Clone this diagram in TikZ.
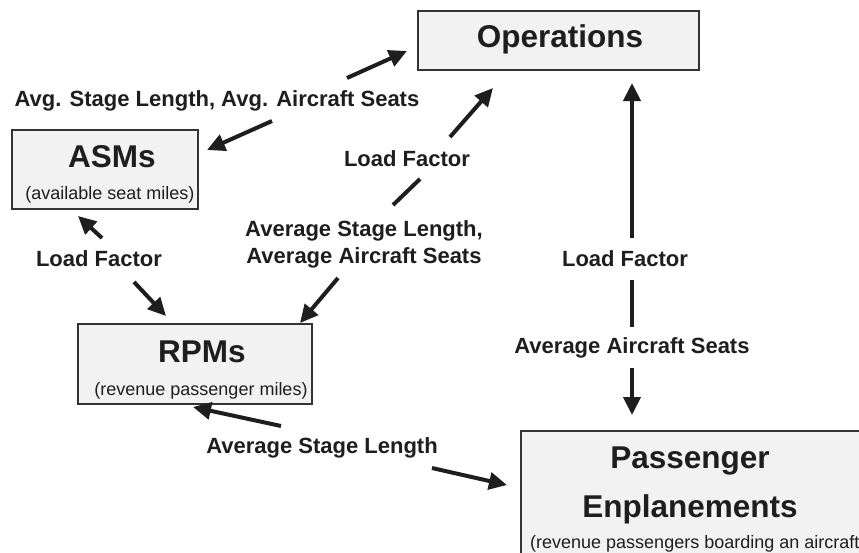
\documentclass[tikz,border=0pt]{standalone}
\usepackage{fontspec}
\setmainfont{Liberation Sans}
\usetikzlibrary{arrows.meta}
\definecolor{ink}{HTML}{1E1E1E}
\definecolor{boxfill}{HTML}{F2F2F2}
\definecolor{boxline}{HTML}{333333}
\begin{document}
\begin{tikzpicture}[x=1pt,y=-1pt,
  box/.style={draw=boxline, fill=boxfill, line width=1.6pt, inner sep=0pt, rectangle},
  title/.style={anchor=base, text=ink, font=\fontsize{31.5}{36}\selectfont\bfseries, inner sep=0pt},
  sub/.style={anchor=base, text=ink, font=\fontsize{18}{21}\selectfont, inner sep=0pt},
  lab/.style={anchor=base, text=ink, font=\fontsize{22}{27}\selectfont\bfseries, inner sep=0pt, align=center},
  arr/.style={draw=ink, line width=4pt, -{Triangle[length=18pt,width=17pt]}},
  seg/.style={draw=ink, line width=4pt}]
\useasboundingbox (0,0) rectangle (859,552);
\clip (0,0) rectangle (859,552);
\fill[white] (0,0) rectangle (859,552);

% boxes
\node[box, minimum width=281pt, minimum height=59pt] (ops) at (558.5,40.5) {};
\node[box, minimum width=186pt, minimum height=79pt] (asm) at (105,169.5) {};
\node[box, minimum width=234pt, minimum height=80pt] (rpm) at (195,364) {};
\node[box, minimum width=354pt, minimum height=139pt] (pax) at (698,500.5) {};

% box texts
\node[title] (opsT) at (560,47) {Operations};
\node[title] (asmT) at (112,167) {ASMs};
\node[sub] (asmS) at (110,199) {(available seat miles)};
\node[title] (rpmT) at (202,362) {RPMs};
\node[sub] (rpmS) at (201,395) {(revenue passenger miles)};
\node[title] (paxT1) at (690,468) {Passenger};
\node[title] (paxT2) at (690,517) {Enplanements};
\node[sub, anchor=base west] (paxS) at (530,548) {(revenue passengers boarding an aircraft};

% labels
\node[lab] (l1) at (217,106) {Avg. Stage Length, Avg. Aircraft Seats};
\node[lab] (l2) at (407,166) {Load Factor};
\node[lab] (l3) at (364,263) {Average Stage Length,\\Average Aircraft Seats};
\node[lab] (l4) at (99,266) {Load Factor};
\node[lab] (l5) at (625,266) {Load Factor};
\node[lab] (l6) at (632,353) {Average Aircraft Seats};
\node[lab] (l7) at (322,453) {Average Stage Length};

% connector end points
\coordinate (a1s) at (347,78);  \coordinate (a1e) at (407,51);
\coordinate (a1t) at (272,121); \coordinate (a1f) at (207,150);
\coordinate (a2s) at (450,137); \coordinate (a2e) at (493,88);
\coordinate (a2m1) at (420,179); \coordinate (a2m2) at (393,205);
\coordinate (a2t) at (338,278); \coordinate (a2f) at (300,323);
\coordinate (a3s) at (102,238); \coordinate (a3e) at (78,216);
\coordinate (a3t) at (134,282); \coordinate (a3f) at (166,316);
\coordinate (a4s) at (632,238); \coordinate (a4e) at (632,83);
\coordinate (a4m1) at (632,280); \coordinate (a4m2) at (632,327);
\coordinate (a4t) at (632,368); \coordinate (a4f) at (632,415);
\coordinate (a5s) at (281,426); \coordinate (a5e) at (193,407);
\coordinate (a5t) at (432,468); \coordinate (a5f) at (507,485);

% connectors
\draw[arr] (a1s) -- (a1e);
\draw[arr] (a1t) -- (a1f);
\draw[arr] (a2s) -- (a2e);
\draw[seg] (a2m1) -- (a2m2);
\draw[arr] (a2t) -- (a2f);
\draw[arr] (a3s) -- (a3e);
\draw[arr] (a3t) -- (a3f);
\draw[arr] (a4s) -- (a4e);
\draw[seg] (a4m1) -- (a4m2);
\draw[arr] (a4t) -- (a4f);
\draw[arr] (a5s) -- (a5e);
\draw[arr] (a5t) -- (a5f);
\end{tikzpicture}
\end{document}
